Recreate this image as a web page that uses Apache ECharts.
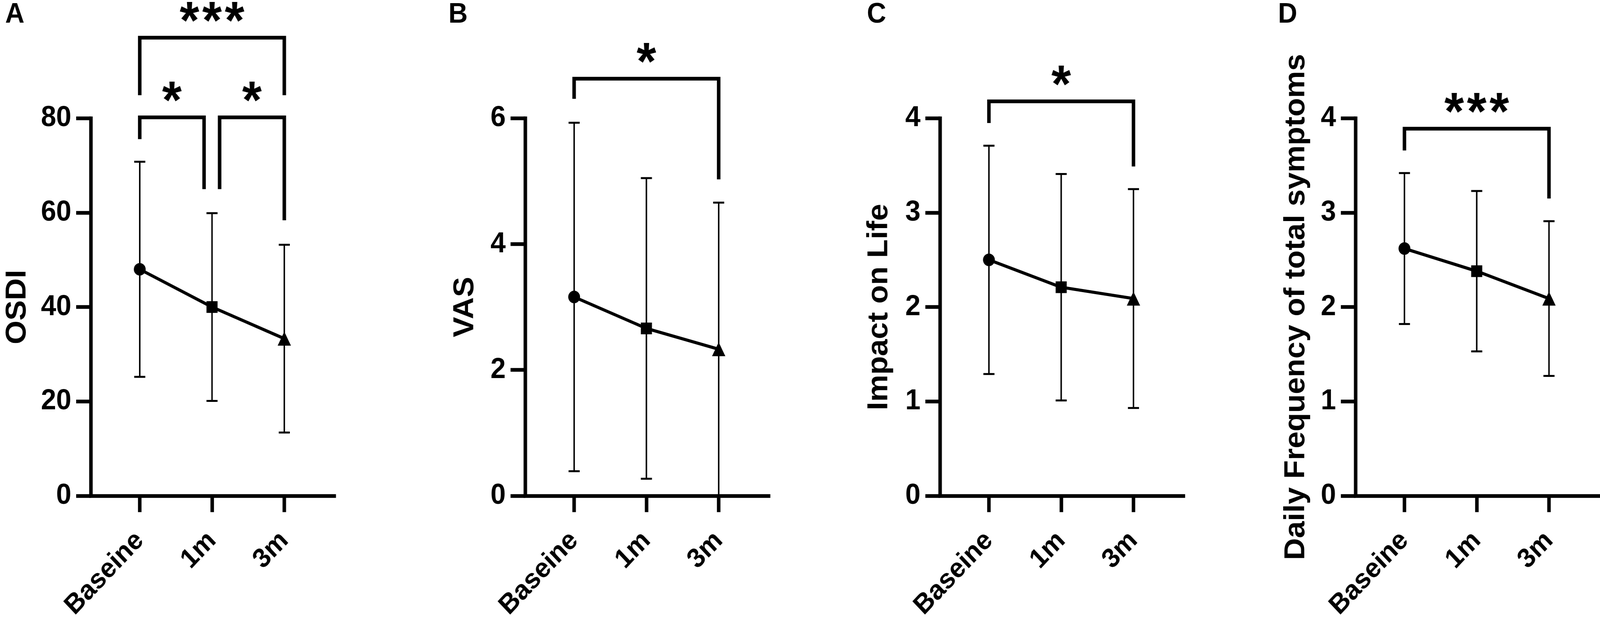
<!DOCTYPE html>
<html>
<head>
<meta charset="utf-8">
<title>Symptom scores over follow-up</title>
<script src="https://cdn.jsdelivr.net/npm/echarts@6/dist/echarts.min.js"></script>
<style>
  html, body { margin: 0; padding: 0; background: #fff; overflow: hidden; }
  #wrap { width: 100vw; height: 100vh; overflow: hidden; }
  #chart { width: 4328px; height: 1590px; transform-origin: 0 0; }
</style>
</head>
<body>
<div id="wrap"><div id="chart"></div></div>
<script>
// categories (spelling kept as in the figure)
var categories = ['Baseine', '1m', '3m'];
var positions = [1, 2, 3];      // x position of each time point

// mean and SD per time point
var osdiMean = [48.0, 40.0, 33.3];
var osdiSd   = [22.8, 19.9, 19.9];
var vasMean  = [3.16, 2.66, 2.33];
var vasSd    = [2.77, 2.39, 2.33];
var lifeMean = [2.50, 2.21, 2.09];
var lifeSd   = [1.21, 1.20, 1.16];
var freqMean = [2.62, 2.38, 2.09];
var freqSd   = [0.80, 0.85, 0.82];

// y tick labels
var osdiTicks = [0, 20, 40, 60, 80];
var vasTicks  = [0, 2, 4, 6];
var lifeTicks = [0, 1, 2, 3, 4];
var freqTicks = [0, 1, 2, 3, 4];

// significance brackets: [from, to, bar level, left leg end, right leg end, stars]
var osdiComp = [
    [1, 3, 97.1, 84.9, 84.9, '***'],
    [1, 1.89, 80.2, 75.6, 65.0, '*'],
    [2.105, 3, 80.2, 65.0, 58.4, '*']
];
var vasComp  = [[1, 3, 6.63, 6.31, 5.03, '*']];
var lifeComp = [[1, 3, 4.18, 3.95, 3.49, '*']];
var freqComp = [[1, 3, 3.89, 3.66, 3.15, '***']];

var panels = [
    {letter: 'A', title: 'OSDI', mean: osdiMean, sd: osdiSd, ticks: osdiTicks, comp: osdiComp},
    {letter: 'B', title: 'VAS', mean: vasMean, sd: vasSd, ticks: vasTicks, comp: vasComp},
    {letter: 'C', title: 'Impact on Life', mean: lifeMean, sd: lifeSd, ticks: lifeTicks, comp: lifeComp},
    {letter: 'D', title: 'Daily Frequency of total symptoms', mean: freqMean, sd: freqSd, ticks: freqTicks, comp: freqComp}
];

// layout of each panel (pixels)
var layout = [
    {left: 246,  nameGap: 160, letterX: 14},
    {left: 1421, nameGap: 124, letterX: 1213},
    {left: 2543, nameGap: 126, letterX: 2345},
    {left: 3667, nameGap: 122, letterX: 3457}
];

var font = "'Liberation Sans', Arial, Helvetica, sans-serif";
var gridTop = 303, gridHeight = 975, gridWidth = 658;
var step = 195.5;               // pixels between time points
var xMin = positions[0] - 132 / step;
var xMax = xMin + gridWidth / step;
var symbols = ['circle', 'rect', 'triangle'];
var symbolSizes = [32, 30, 36];
var axisW = 9.5;

// the figure is laid out at 4328x1590; fit it to the actual window
var el = document.getElementById('chart');
var sx = window.innerWidth / 4328, sy = window.innerHeight / 1590;
if (Math.abs(sx - 1) > 0.001 || Math.abs(sy - 1) > 0.001) {
    el.style.transform = 'scale(' + sx + ',' + sy + ')';
}

var chart = echarts.init(el);

var option = {
    animation: false,
    backgroundColor: '#fff',
    title: [],
    grid: [],
    xAxis: [],
    yAxis: [],
    series: []
};

panels.forEach(function (p, i) {
    var lay = layout[i];

    option.title.push({
        text: p.letter,
        left: lay.letterX,
        top: 2,
        padding: 0,
        textStyle: {fontSize: 72, fontWeight: 'bold', fontFamily: font, color: '#000'}
    });

    option.grid.push({left: lay.left, top: gridTop, width: gridWidth, height: gridHeight});

    option.xAxis.push({
        type: 'value',
        gridIndex: i,
        min: xMin,
        max: xMax,
        axisLine: {show: true, onZero: false, lineStyle: {color: '#000', width: axisW, cap: 'square'}},
        axisTick: {show: true, customValues: positions, length: 42, lineStyle: {color: '#000', width: axisW}},
        axisLabel: {
            customValues: positions,
            formatter: function (v) { return categories[positions.indexOf(Math.round(v))]; },
            rotate: 45,
            margin: 104,
            fontSize: 70,
            fontWeight: 'bold',
            fontFamily: font,
            color: '#000'
        },
        splitLine: {show: false}
    });

    option.yAxis.push({
        type: 'value',
        gridIndex: i,
        min: p.ticks[0],
        max: p.ticks[p.ticks.length - 1],
        interval: p.ticks[1] - p.ticks[0],
        name: p.title,
        nameLocation: 'middle',
        nameGap: lay.nameGap,
        nameTextStyle: {fontSize: 78, fontWeight: 'bold', fontFamily: font, color: '#000'},
        axisLine: {show: true, onZero: false, lineStyle: {color: '#000', width: axisW, cap: 'square'}},
        axisTick: {show: true, length: 40, lineStyle: {color: '#000', width: axisW}},
        axisLabel: {margin: 53, fontSize: 74, fontWeight: 'bold', fontFamily: font, color: '#000'},
        splitLine: {show: false}
    });

    // error bars (mean ± SD)
    option.series.push({
        type: 'custom',
        xAxisIndex: i,
        yAxisIndex: i,
        clip: false,
        z: 2,
        data: p.mean.map(function (m, j) {
            return [positions[j], Math.max(0, m - p.sd[j]), m + p.sd[j]];
        }),
        renderItem: function (params, api) {
            var x = api.value(0);
            var hi = api.coord([x, api.value(2)]);
            var lo = api.coord([x, api.value(1)]);
            var cw = 15;
            return {
                type: 'group',
                children: [
                    {type: 'line', shape: {x1: hi[0], y1: hi[1], x2: lo[0], y2: lo[1]}, style: {stroke: '#000', lineWidth: 4}},
                    {type: 'line', shape: {x1: hi[0] - cw, y1: hi[1], x2: hi[0] + cw, y2: hi[1]}, style: {stroke: '#000', lineWidth: 5}},
                    {type: 'line', shape: {x1: lo[0] - cw, y1: lo[1], x2: lo[0] + cw, y2: lo[1]}, style: {stroke: '#000', lineWidth: 5}}
                ]
            };
        }
    });

    // means
    option.series.push({
        type: 'line',
        xAxisIndex: i,
        yAxisIndex: i,
        z: 3,
        data: p.mean.map(function (m, j) {
            return {value: [positions[j], m], symbol: symbols[j], symbolSize: symbolSizes[j]};
        }),
        lineStyle: {color: '#000', width: 8},
        itemStyle: {color: '#000', borderWidth: 0}
    });

    // significance brackets
    option.series.push({
        type: 'custom',
        xAxisIndex: i,
        yAxisIndex: i,
        clip: false,
        z: 4,
        data: p.comp.map(function (c) { return [c[0], c[1], c[2], c[3], c[4]]; }),
        renderItem: function (params, api) {
            var x1 = api.value(0), x2 = api.value(1), top = api.value(2);
            var pL = api.coord([x1, api.value(3)]);
            var pA = api.coord([x1, top]);
            var pB = api.coord([x2, top]);
            var pR = api.coord([x2, api.value(4)]);
            var stars = p.comp[params.dataIndex][5];
            var children = [{
                type: 'polyline',
                shape: {points: [pL, pA, pB, pR]},
                style: {stroke: '#000', lineWidth: axisW, fill: null, lineJoin: 'miter', lineCap: 'butt'}
            }];
            var cx = (pA[0] + pB[0]) / 2;
            for (var k = 0; k < stars.length; k++) {
                children.push({
                    type: 'text',
                    style: {
                        text: '*',
                        x: cx + (k - (stars.length - 1) / 2) * 61,
                        y: pA[1] - 36,
                        align: 'center',
                        verticalAlign: 'middle',
                        fontSize: 136,
                        fontWeight: 'bold',
                        fontFamily: font,
                        fill: '#000'
                    }
                });
            }
            return {type: 'group', children: children};
        }
    });
});

chart.setOption(option);
</script>
</body>
</html>
